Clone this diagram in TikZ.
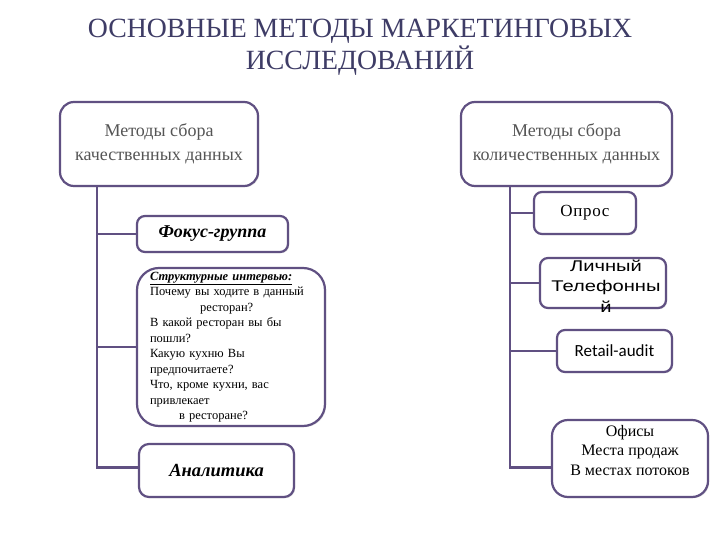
\documentclass[tikz,border=0pt]{standalone}
\usepackage{fontspec}
\setmainfont{Liberation Serif}
\newfontfamily\arialwide[FakeStretch=1.3]{Liberation Sans}
\newfontfamily\calibrifont{Carlito}
\newfontfamily\spacedfont[LetterSpace=4]{Liberation Serif}
\usepackage{tikz}
\usetikzlibrary{shapes,arrows,shadows}
\definecolor{frame}{RGB}{96,80,130}
\definecolor{titlecol}{RGB}{62,60,102}
\definecolor{headtext}{RGB}{85,85,85}

\begin{document}
\begin{tikzpicture}[x=1pt,y=-1pt]
\tikzstyle{box} = [rectangle, draw=frame, line width=2.2pt, fill=white, rounded corners=8pt, inner sep=0pt, align=center, drop shadow={shadow xshift=1.2pt, shadow yshift=-1.2pt, opacity=0.25}]
\tikzstyle{head} = [box, rounded corners=14pt, minimum height=84pt, text=headtext, font=\fontsize{18}{24}\selectfont]
\tikzstyle{tree} = [draw=frame, line width=2.6pt]
\useasboundingbox (0,0) rectangle (720,540);
\fill[white] (0,0) rectangle (720,540);
\node[text=titlecol, align=center, font=\fontsize{27.8}{32}\selectfont] (T) at (360,47)
  {ОСНОВНЫЕ МЕТОДЫ МАРКЕТИНГОВЫХ\\ИССЛЕДОВАНИЙ};
% left branch
\node[head, minimum width=198pt] (QL) at (159,144) {Методы сбора\\качественных данных};
\node[box, minimum width=151pt, minimum height=36pt, font=\fontsize{18}{20}\selectfont\bfseries\itshape] (FG) at (212.5,234) {Фокус-группа};
\node[box, rounded corners=22pt, minimum width=188pt, minimum height=158pt, text width=162pt, align=left, font=\fontsize{12.5}{15.5}\selectfont] (SI) at (231,347)
  {\underline{\textbf{\textit{Структурные интервью:}}}\\
   Почему вы ходите в данный\\
   \hspace*{50pt}ресторан?\\
   В какой ресторан вы бы\\
   пошли?\\
   Какую кухню Вы\\
   предпочитаете?\\
   Что, кроме кухни, вас\\
   привлекает\\
   \hspace*{29pt}в ресторане?};
\node[box, rounded corners=10pt, minimum width=155pt, minimum height=53pt, font=\fontsize{18.5}{20}\selectfont\bfseries\itshape] (AN) at (216.5,470.5) {Аналитика};
% right branch
\node[head, minimum width=211pt] (QN) at (566.5,144) {Методы сбора\\количественных данных};
\node[box, minimum width=102pt, minimum height=42pt, font=\fontsize{17}{19}\spacedfont] (OP) at (585,213) {Опрос};
\node[box, minimum width=126pt, minimum height=50pt] (LT) at (603,283) {};
\node[align=center, inner sep=0pt, font=\fontsize{15.5}{20.5}\arialwide] (LTt) at ([xshift=3pt,yshift=-3pt]LT) {Личный\\Телефонны\\й};
\node[box, minimum width=115pt, minimum height=42pt, font=\fontsize{17}{19}\calibrifont] (RA) at (614.5,351) {Retail-audit};
\node[box, rounded corners=16pt, minimum width=156pt, minimum height=77pt] (OF) at (630,458.5) {};
\node[align=center, inner sep=0pt, font=\fontsize{16}{19.5}\selectfont] (OFt) at ([yshift=8pt]OF) {Офисы\\Места продаж\\В местах потоков};
% connectors
\coordinate (QLb) at (97,186);
\coordinate (QNb) at (510,186);
\begin{scope}[on background layer/.try]
\draw[tree] (QLb) |- ([yshift=3pt]AN.west);
\draw[tree] (QLb |- FG.west) -- (FG.west);
\draw[tree] (QLb |- SI.west) -- (SI.west);
\draw[tree] (QNb) |- ([yshift=-9pt]OF.west);
\draw[tree] (QNb |- OP.west) -- (OP.west);
\draw[tree] (QNb |- LT.west) -- (LT.west);
\draw[tree] (QNb |- RA.west) -- (RA.west);
\end{scope}
\end{tikzpicture}
\end{document}
